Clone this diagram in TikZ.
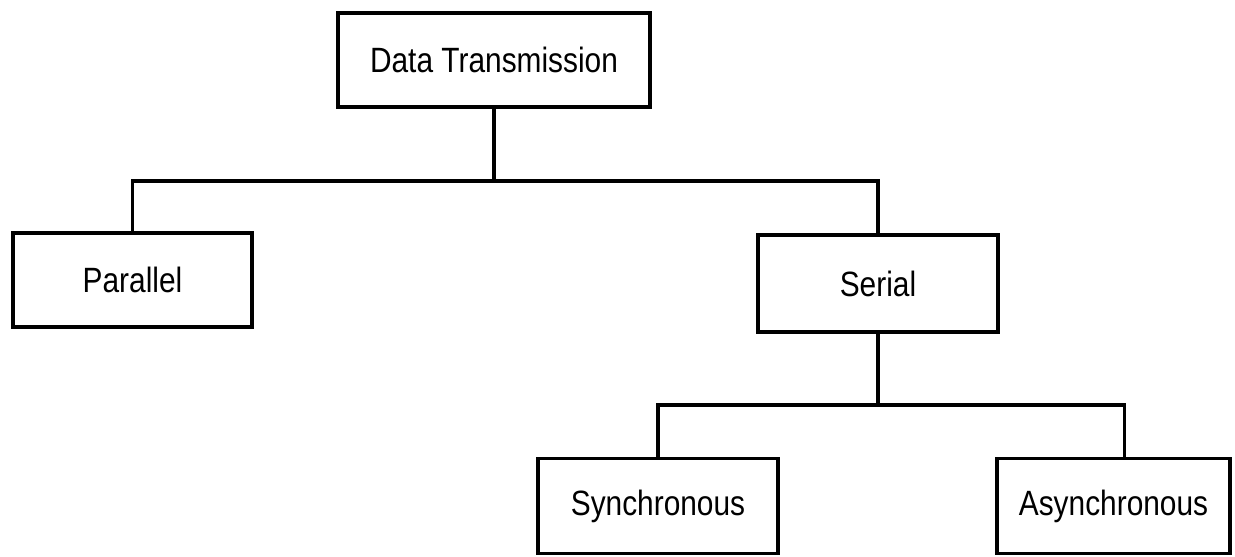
\documentclass[tikz,border=0pt]{standalone}
\usepackage{fontspec}
\setmainfont[FakeStretch=0.85]{Liberation Sans}
\usepackage{tikz}
\usetikzlibrary{positioning}

\begin{document}
\begin{tikzpicture}[x=0.02cm,y=-0.02cm,
    box/.style={draw, line width=2.1pt, fill=white, inner sep=0pt,
        minimum width=4.8cm, minimum height=1.9cm,
        font=\fontsize{20}{24}\selectfont},
    link/.style={line width=1.8pt}]
    \useasboundingbox (0,0) rectangle (1235,556);

    % top
    \node[box, minimum width=6.24cm, minimum height=1.88cm] (dt) at (494,60) {Data Transmission};

    % first level
    \node[box, minimum width=4.78cm, minimum height=1.88cm] (par) at (132.5,280) {Parallel};
    \node[box, minimum height=1.94cm] (ser) at (878,283.5) {Serial};

    % second level
    \node[box, minimum height=1.9cm] (syn) at (658,506) {Synchronous};
    \node[box, minimum width=4.66cm, minimum height=1.9cm] (asyn) at (1113.5,506) {Asynchronous};

    % connectors
    \coordinate (bus1) at (494,181);
    \coordinate (bus2) at (876,405);
    \draw[link] (dt.south) -- (dt.south |- bus1);
    \draw[link] (par.north) |- (bus1) -| (ser.north);
    \draw[link] (ser.south) -- (ser.south |- bus2);
    \draw[link] (syn.north) |- (bus2) -| ([xshift=0.22cm]asyn.north);
\end{tikzpicture}
\end{document}
